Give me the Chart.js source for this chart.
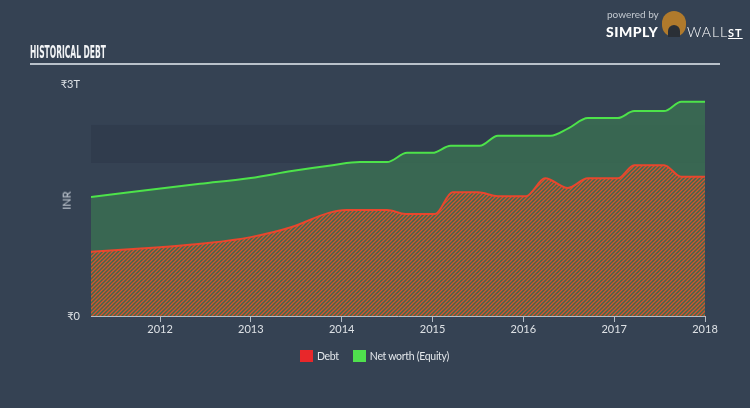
<!DOCTYPE html>
<html>
<head>
<meta charset="utf-8">
<script src="https://cdn.jsdelivr.net/npm/chart.js@4"></script>
<style>
  html, body { margin: 0; padding: 0; background: #354253; }
  body { width: 750px; height: 408px; position: relative; overflow: hidden; font-family: 'Lato', 'Noto Sans', sans-serif; }
  #chart { position: absolute; left: 0; top: 0; }
  .hd-title { position: absolute; left: 30px; top: 41px; color: #f2f4f6; font-family: 'DejaVu Sans Condensed', 'DejaVu Sans', sans-serif; font-weight: bold; font-size: 18px; transform-origin: 0 0; white-space: nowrap; }
  .hd-rule { position: absolute; left: 30px; top: 63px; width: 690px; height: 2px; background: #b9c1ca; }
  .hd-unit { position: absolute; left: 57px; top: 194px; color: #c9d0d8; font-size: 11px; transform: rotate(-90deg); }
  .hd-legend { position: absolute; top: 350px; left: 300px; color: #e3e7eb; font-size: 10.5px; letter-spacing: -0.3px; display: flex; align-items: center; }
  .hd-legend span.box { display: inline-block; width: 13px; height: 12px; margin-right: 4px; }
  .hd-legend .item { display: flex; align-items: center; margin-right: 14px; }
  .hd-logo { position: absolute; left: 606px; top: 7px; color: #fff; }
  .hd-logo .pb { font-size: 10px; color: #c3c9d0; position: absolute; left: 1px; top: 1px; white-space: nowrap; }
  .hd-logo .sw { position: absolute; left: 0; top: 16px; font-size: 14px; font-weight: 900; letter-spacing: 0.5px; }
  .hd-logo .wall { position: absolute; left: 81px; top: 16px; font-size: 14px; font-weight: 300; letter-spacing: 1px; white-space: nowrap; }
  .hd-logo .wall u { font-size: 11px; font-weight: 700; }
  .hd-logo .bull { position: absolute; left: 56px; top: 4px; width: 24px; height: 26px; border-radius: 12px; background: #b07a2c; }
  .hd-logo .bull:after { content: ''; position: absolute; left: 6px; top: 14px; width: 12px; height: 12px; border-radius: 6px 6px 0 0; background: #2a2f36; }
</style>
</head>
<body>
<canvas id="chart" width="750" height="408"></canvas>
<div class="hd-title" id="title">HISTORICAL DEBT</div>
<div class="hd-rule"></div>
<div class="hd-unit">INR</div>
<div class="hd-legend">
  <div class="item"><span class="box" style="background:#e8272a"></span>Debt</div>
  <div class="item"><span class="box" style="background:#4fe04d"></span>Net worth (Equity)</div>
</div>
<div class="hd-logo">
  <div class="pb">powered by</div>
  <div class="sw">SIMPLY</div>
  <div class="bull"></div>
  <div class="wall">WALL<u>ST</u></div>
</div>
<script>
// ── 데이터 (단위: 조 루피, x = 연도) ──
var debtYears   = [2011.24, 2012.0, 2012.5, 2013.0, 2013.45, 2013.85, 2014.05, 2014.5, 2014.7, 2015.03, 2015.22, 2015.5, 2015.72, 2016.03, 2016.24, 2016.49, 2016.71, 2017.04, 2017.22, 2017.55, 2017.74, 2018.0];
var debtValues  = [0.83, 0.89, 0.94, 1.02, 1.15, 1.33, 1.37, 1.37, 1.32, 1.32, 1.60, 1.60, 1.55, 1.55, 1.78, 1.655, 1.78, 1.78, 1.95, 1.95, 1.80, 1.80];

var equityYears  = [2011.24, 2012.44, 2013.0, 2013.45, 2013.9, 2014.2, 2014.5, 2014.72, 2015.0, 2015.2, 2015.52, 2015.72, 2016.3, 2016.5, 2016.71, 2017.04, 2017.22, 2017.55, 2017.74, 2018.0];
var equityValues = [1.54, 1.71, 1.785, 1.875, 1.95, 1.99, 1.99, 2.11, 2.11, 2.20, 2.20, 2.33, 2.33, 2.43, 2.56, 2.56, 2.65, 2.65, 2.77, 2.77];

var tickYears = [2012, 2013, 2014, 2015, 2016, 2017, 2018];
var yTicks = [0, 3];
var yTickLabels = ['₹0', '₹3T'];
var bandRange = [1.98, 2.47];

// 제목 폭 맞추기 (좁은 글꼴 흉내)
var titleEl = document.getElementById('title');
titleEl.style.transform = 'scaleX(' + (76 / titleEl.offsetWidth) + ')';

function toPoints(xs, ys) {
  var out = [];
  for (var i = 0; i < xs.length; i++) out.push({ x: xs[i], y: ys[i] });
  return out;
}

// ── 빗금 패턴 ──
function makeHatch() {
  var c = document.createElement('canvas');
  c.width = 4; c.height = 4;
  var g = c.getContext('2d');
  g.fillStyle = '#3e6a4e';
  g.fillRect(0, 0, 4, 4);
  g.strokeStyle = '#d4522e';
  g.lineWidth = 1.35;
  g.beginPath();
  g.moveTo(-1, 5); g.lineTo(5, -1);
  g.moveTo(-1, 1); g.lineTo(1, -1);
  g.moveTo(3, 5); g.lineTo(5, 3);
  g.stroke();
  return g.createPattern(c, 'repeat');
}

// ── 배경 밴드 ──
var bandPlugin = {
  id: 'band',
  beforeDatasetsDraw: function(chart) {
    var ctx = chart.ctx, a = chart.chartArea, y = chart.scales.y;
    var top = y.getPixelForValue(bandRange[1]);
    var bot = y.getPixelForValue(bandRange[0]);
    ctx.save();
    ctx.fillStyle = '#303c4d';
    ctx.fillRect(a.left, top, a.right - a.left, bot - top);
    ctx.restore();
  }
};

var ctx = document.getElementById('chart').getContext('2d');
new Chart(ctx, {
  type: 'line',
  data: {
    datasets: [{
      label: 'Debt',
      data: toPoints(debtYears, debtValues),
      borderColor: '#e8472e',
      borderWidth: 2,
      backgroundColor: makeHatch(),
      fill: 'origin',
      pointRadius: 0,
      cubicInterpolationMode: 'monotone'
    }, {
      label: 'Net worth (Equity)',
      data: toPoints(equityYears, equityValues),
      borderColor: '#4de34a',
      borderWidth: 2,
      backgroundColor: 'rgba(60,120,82,0.7)',
      fill: 'origin',
      pointRadius: 0,
      cubicInterpolationMode: 'monotone'
    }]
  },
  options: {
    responsive: false,
    animation: false,
    layout: { padding: { top: 84, right: 45, left: 0, bottom: 0 } },
    plugins: { legend: { display: false }, tooltip: { enabled: false } },
    scales: {
      x: {
        type: 'linear',
        min: debtYears[0],
        max: 2018.0,
        afterBuildTicks: function(s) { s.ticks = tickYears.map(function(v) { return { value: v }; }); },
        afterFit: function(s) { s.height = 92; },
        grid: { drawOnChartArea: false, drawTicks: true, tickLength: 6, color: '#b4bcc5' },
        border: { display: true, color: '#b4bcc5', width: 1 },
        ticks: { color: '#dde1e5', font: { family: 'Lato', size: 11 }, padding: 1, maxRotation: 0,
                 callback: function(v) { return String(v); } }
      },
      y: {
        min: 0,
        max: 3,
        afterBuildTicks: function(s) { s.ticks = yTicks.map(function(v) { return { value: v }; }); },
        afterFit: function(s) { s.width = 91; },
        grid: { display: false },
        border: { display: false },
        ticks: { color: '#dde1e5', font: { family: 'Lato', size: 11 }, padding: 3,
                 callback: function(v) { return yTickLabels[yTicks.indexOf(v)]; } }
      }
    }
  },
  plugins: [bandPlugin]
});
</script>
</body>
</html>
